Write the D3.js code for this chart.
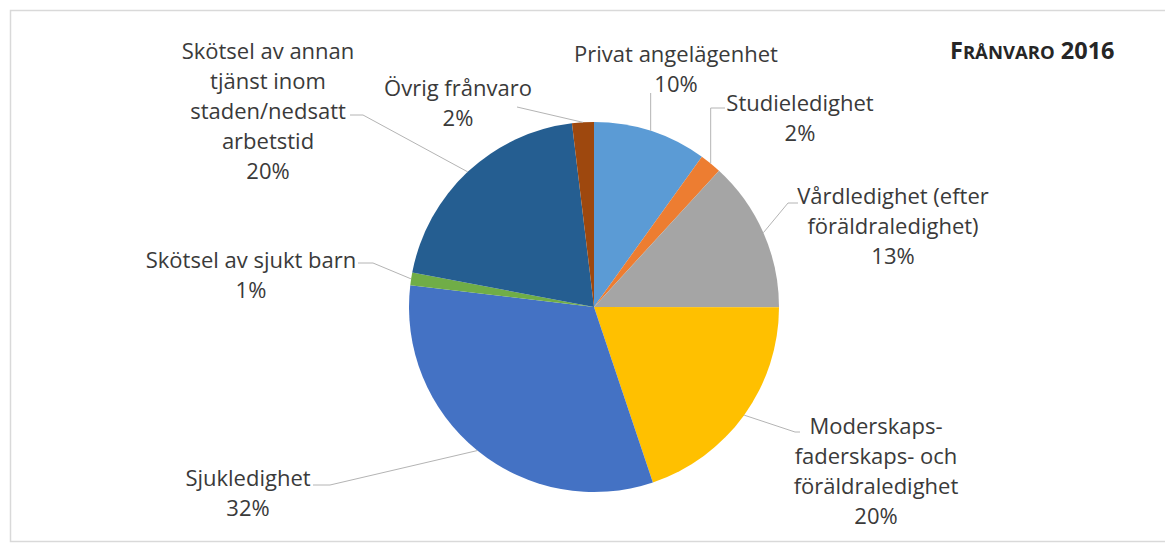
<!DOCTYPE html>
<html>
<head>
<meta charset="utf-8">
<script src="https://cdn.jsdelivr.net/npm/d3@7"></script>
<style>
  html, body { margin: 0; padding: 0; background: #fff; }
  svg { display: block; }
</style>
</head>
<body>
<svg id="chart" width="1165" height="544"></svg>
<script>
// ---------- data ----------
const categories = [
  "Privat angelägenhet",
  "Studieledighet",
  "Vårdledighet (efter föräldraledighet)",
  "Moderskaps- faderskaps- och föräldraledighet",
  "Sjukledighet",
  "Skötsel av sjukt barn",
  "Skötsel av annan tjänst inom staden/nedsatt arbetstid",
  "Övrig frånvaro"
];
const values = [9.9, 1.9, 13.2, 19.8, 32.0, 1.1, 20.1, 1.9];
const labelLines = [
  ["Privat angelägenhet"],
  ["Studieledighet"],
  ["Vårdledighet (efter", "föräldraledighet)"],
  ["Moderskaps-", "faderskaps- och", "föräldraledighet"],
  ["Sjukledighet"],
  ["Skötsel av sjukt barn"],
  ["Skötsel av annan", "tjänst inom", "staden/nedsatt", "arbetstid"],
  ["Övrig frånvaro"]
];
const colors = ["#5B9BD5", "#ED7D31", "#A5A5A5", "#FFC000", "#4472C4", "#70AD47", "#255E91", "#9E480E"];
const titleParts = [["F", "big"], ["RÅNVARO", "small"], [" 2016", "big"]];

// ---------- layout (label placement, px) ----------
const cx = 594, cy = 307, R = 185;
const lineH = 30;
const labelLayout = [
  { x: 676, y: 53,  from: [651, 93],  elbow: null },
  { x: 800, y: 102, from: [725, 108], elbow: "h" },
  { x: 893, y: 195, from: [798, 203], elbow: [788, 203] },
  { x: 876, y: 425, from: [800, 432], elbow: [795, 432] },
  { x: 248, y: 477, from: [313, 485], elbow: [330, 485] },
  { x: 251, y: 259, from: [358, 263], elbow: [373, 263] },
  { x: 268, y: 50,  from: [350, 115], elbow: [363, 115] },
  { x: 458, y: 87,  from: [517, 107], elbow: null }
];

const svg = d3.select("#chart");
const font = "'Open Sans', 'Noto Sans', sans-serif";

// frame
svg.append("rect")
  .attr("x", 10.5).attr("y", 10.5)
  .attr("width", 1170).attr("height", 531)
  .attr("fill", "none").attr("stroke", "#d9d9d9").attr("stroke-width", 1.5);

const total = d3.sum(values);
const pie = d3.pie().sort(null).value(d => d)(values);
const arc = d3.arc().innerRadius(0).outerRadius(R);
const edge = d3.arc().innerRadius(R).outerRadius(R);

const g = svg.append("g").attr("transform", `translate(${cx},${cy})`);
g.selectAll("path.slice").data(pie).join("path")
  .attr("class", "slice")
  .attr("d", arc)
  .attr("fill", (d, i) => colors[i]);

// leader lines
const leaders = svg.append("g");
pie.forEach((d, i) => {
  const [ex, ey] = edge.centroid(d);
  const px = cx + ex, py = cy + ey;
  const L = labelLayout[i];
  let pts;
  if (L.elbow === "h") pts = [L.from, [px, L.from[1]], [px, py]];
  else if (L.elbow) pts = [L.from, L.elbow, [px, py]];
  else if (i === 0) pts = [[px, L.from[1]], [px, py]];
  else pts = [L.from, [px, py]];
  leaders.append("path")
    .attr("d", d3.line()(pts))
    .attr("fill", "none")
    .attr("stroke", "#b4b4b4")
    .attr("stroke-width", 1);
});

// labels
const labels = svg.append("g")
  .attr("font-family", font)
  .attr("font-size", 22)
  .attr("fill", "#3a3a3a")
  .attr("text-anchor", "middle");
pie.forEach((d, i) => {
  const L = labelLayout[i];
  const lines = labelLines[i].concat([Math.round(d.value / total * 100) + "%"]);
  const t = labels.append("text").attr("x", L.x).attr("y", L.y);
  lines.forEach((ln, k) => {
    t.append("tspan")
      .attr("x", L.x)
      .attr("y", L.y + k * lineH)
      .attr("dominant-baseline", "central")
      .text(ln);
  });
});

// title
const title = svg.append("text")
  .attr("x", 950).attr("y", 59)
  .attr("font-family", font)
  .attr("font-weight", "bold")
  .attr("fill", "#262626");
titleParts.forEach(([txt, sz]) => {
  title.append("tspan").attr("font-size", sz === "big" ? 23.5 : 18.5).text(txt);
});
</script>
</body>
</html>
